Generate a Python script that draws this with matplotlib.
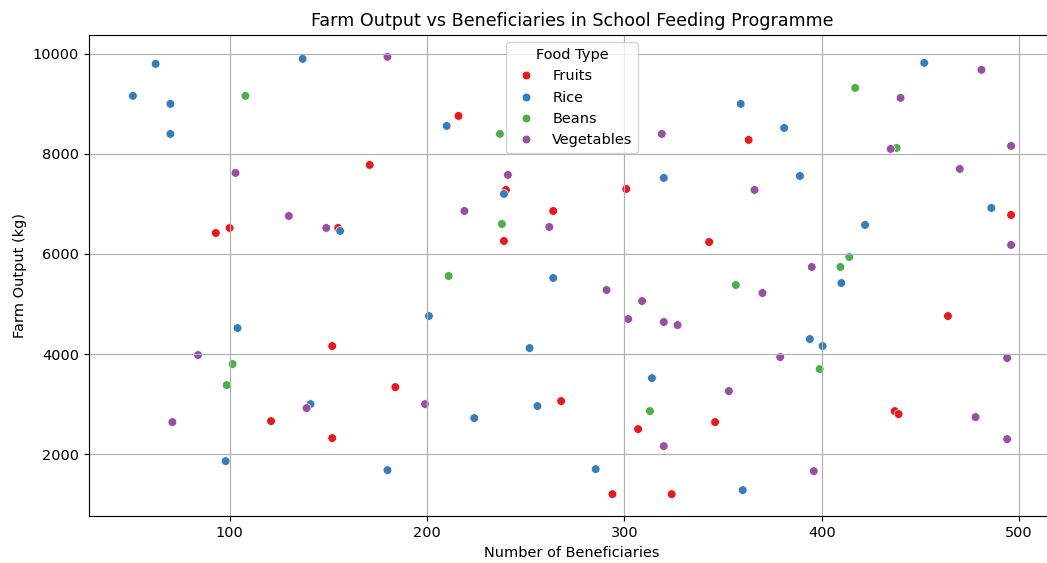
import numpy as np
import pandas as pd
import seaborn as sns
import matplotlib
matplotlib.use("Agg")
import matplotlib.pyplot as plt

fruits_x = [216, 171, 363, 240, 93, 100, 155, 264, 301, 239, 496, 343, 464, 152, 184, 268,
            121, 152, 307, 346, 437, 439, 294, 324]
fruits_y = [8760, 7780, 8280, 7280, 6420, 6520, 6520, 6860, 7300, 6260, 6780, 6240, 4760, 4160,
            3340, 3060, 2660, 2320, 2500, 2640, 2860, 2800, 1200, 1200]

rice_x = [51, 62.5, 70, 70, 137, 98, 104, 156, 141, 180, 210, 239, 201, 224, 252, 256, 264,
          285.5, 314, 320, 359, 381, 389, 422, 410, 394, 400.5, 360, 452, 486]
rice_y = [9160, 9800, 9000, 8400, 9900, 1860, 4520, 6460, 3000, 1680, 8560, 7200, 4760, 2720,
          4120, 2960, 5520, 1700, 3520, 7520, 9000, 8520, 7560, 6580, 5420, 4300, 4160, 1280,
          9820, 6920]

beans_x = [108, 101.5, 98.5, 211, 237, 238, 313, 356.5, 399, 417, 438, 409.5, 414]
beans_y = [9160, 3800, 3380, 5560, 8400, 6600, 2860, 5380, 3700, 9320, 8120, 5740, 5940]

veg_x = [180, 103, 130, 149, 84, 71, 139, 199, 219, 241, 262, 291, 309, 302, 320, 327, 319,
         366, 370, 379, 353, 320, 395, 396, 435, 440, 481, 470, 496, 496, 494, 478, 494]
veg_y = [9940, 7620, 6760, 6520, 3980, 2640, 2920, 3000, 6860, 7580, 6540, 5280, 5060, 4700,
         4640, 4580, 8400, 7280, 5220, 3940, 3260, 2160, 5740, 1660, 8100, 9120, 9680, 7700,
         8160, 6180, 3920, 2740, 2300]

food_types = ["Fruits", "Rice", "Beans", "Vegetables"]

df = pd.concat([
    pd.DataFrame({"Beneficiaries": fruits_x, "Output": fruits_y, "Food Type": "Fruits"}),
    pd.DataFrame({"Beneficiaries": rice_x, "Output": rice_y, "Food Type": "Rice"}),
    pd.DataFrame({"Beneficiaries": beans_x, "Output": beans_y, "Food Type": "Beans"}),
    pd.DataFrame({"Beneficiaries": veg_x, "Output": veg_y, "Food Type": "Vegetables"}),
])

# reference looks cropped on the right, so the axes run a bit past the figure edge
fig = plt.figure(figsize=(10, 563 / 104.7), dpi=104.7)
fig.subplots_adjust(left=89 / 1047, right=1055 / 1047, bottom=47 / 563, top=528 / 563)
ax = fig.add_subplot(111)
sns.scatterplot(data=df, x="Beneficiaries", y="Output", hue="Food Type",
                hue_order=food_types, palette="Set1", ax=ax)
ax.set_title("Farm Output vs Beneficiaries in School Feeding Programme")
ax.set_xlabel("Number of Beneficiaries")
ax.set_ylabel("Farm Output (kg)")
ax.legend(title="Food Type", loc="upper center")
ax.grid(True)
ax.spines["right"].set_visible(False)
fig.savefig("out.png", dpi=104.7)
